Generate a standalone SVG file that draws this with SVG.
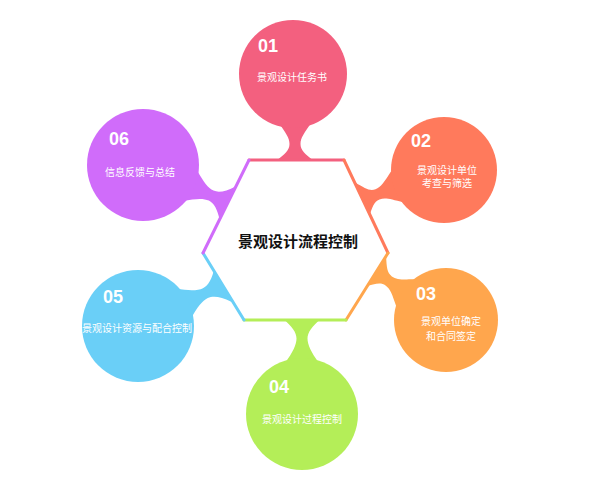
<svg xmlns="http://www.w3.org/2000/svg" width="600" height="489" viewBox="0 0 600 489">
<style>
.num{font-family:"Liberation Sans",Arial,sans-serif;font-weight:bold;font-size:18px;fill:#fff}
.lbl{font-family:"Noto Sans CJK SC","Noto Sans",sans-serif;font-size:10px;fill:#fff;text-anchor:middle}
.title{font-family:"Noto Sans CJK SC","Noto Sans",sans-serif;font-size:15px;font-weight:bold;fill:#111;text-anchor:middle}
.edge{stroke-width:3;stroke-linecap:round;fill:none}
</style>
<rect width="600" height="489" fill="#fff"/>
<g id="connectors">
<path fill="#F3607F" transform="translate(295,160) rotate(-90)" d="M -6,-19 L -1,-19 C 6,-10 10,-5.5 16,-5.5 C 22,-5.5 27,-9 38,-17 L 38,17 C 27,9 22,5.5 16,5.5 C 10,5.5 6,10 -1,19 L -6,19 Z"/>
<path fill="#FF7A5C" transform="translate(363,200) rotate(-21)" d="M -6,-19 L -1,-19 C 6,-10 9.5,-5.5 15.5,-5.5 C 21.5,-5.5 26,-9 37,-17 L 37,17 C 26,9 21.5,5.5 15.5,5.5 C 9.5,5.5 6,10 -1,19 L -6,19 Z"/>
<path fill="#FFA64D" transform="translate(376,272) rotate(35)" d="M -6,-19 L -1,-19 C 6,-10 9.5,-5.5 15.5,-5.5 C 21.5,-5.5 26,-9 37,-17 L 37,17 C 26,9 21.5,5.5 15.5,5.5 C 9.5,5.5 6,10 -1,19 L -6,19 Z"/>
<path fill="#B4EE58" transform="translate(302,320) rotate(90)" d="M -6,-19 L -1,-19 C 6,-10 12.5,-5.5 18.5,-5.5 C 24.5,-5.5 32,-9 43,-17 L 43,17 C 32,9 24.5,5.5 18.5,5.5 C 12.5,5.5 6,10 -1,19 L -6,19 Z"/>
<path fill="#6ACFF7" transform="translate(222,285) rotate(154)" d="M -6,-19 L -1,-19 C 6,-10 12.5,-5.5 18.5,-5.5 C 24.5,-5.5 32,-9 43,-17 L 43,17 C 32,9 24.5,5.5 18.5,5.5 C 12.5,5.5 6,10 -1,19 L -6,19 Z"/>
<path fill="#D06CFA" transform="translate(227,203) rotate(-155)" d="M -6,-19 L -1,-19 C 6,-10 11.5,-5.5 17.5,-5.5 C 23.5,-5.5 30,-9 41,-17 L 41,17 C 30,9 23.5,5.5 17.5,5.5 C 11.5,5.5 6,10 -1,19 L -6,19 Z"/>
</g>
<g id="center">
<polygon points="249,160 344,160 388,253 346,320 244,320 203,253" fill="#fff"/>
<line class="edge" x1="249" y1="160" x2="344" y2="160" stroke="#F3607F"/>
<line class="edge" x1="344" y1="160" x2="388" y2="253" stroke="#FF7A5C"/>
<line class="edge" x1="388" y1="253" x2="346" y2="320" stroke="#FFA64D"/>
<line class="edge" x1="346" y1="320" x2="244" y2="320" stroke="#B4EE58"/>
<line class="edge" x1="244" y1="320" x2="203" y2="253" stroke="#6ACFF7"/>
<line class="edge" x1="203" y1="253" x2="249" y2="160" stroke="#D06CFA"/>
<text class="title" x="298" y="247">景观设计流程控制</text>
</g>
<g id="node-01">
<circle cx="293" cy="74" r="54" fill="#F3607F"/>
<text class="num" x="258" y="52">01</text>
<text class="lbl" x="292" y="80.5">景观设计任务书</text>
</g>
<g id="node-02">
<circle cx="444" cy="170" r="53" fill="#FF7A5C"/>
<text class="num" x="411" y="147">02</text>
<text class="lbl" x="447" y="173.5">景观设计单位</text>
<text class="lbl" x="447" y="187">考查与筛选</text>
</g>
<g id="node-03">
<circle cx="446" cy="320" r="52" fill="#FFA64D"/>
<text class="num" x="416" y="300">03</text>
<text class="lbl" x="451" y="324.5">景观单位确定</text>
<text class="lbl" x="451" y="340">和合同签定</text>
</g>
<g id="node-04">
<circle cx="302" cy="414" r="56" fill="#B4EE58"/>
<text class="num" x="269" y="393">04</text>
<text class="lbl" x="302" y="422.5">景观设计过程控制</text>
</g>
<g id="node-05">
<circle cx="138" cy="326" r="56" fill="#6ACFF7"/>
<text class="num" x="103" y="303">05</text>
<text class="lbl" x="137" y="331.5">景观设计资源与配合控制</text>
</g>
<g id="node-06">
<circle cx="143" cy="165" r="56" fill="#D06CFA"/>
<text class="num" x="109" y="145">06</text>
<text class="lbl" x="140" y="175.5">信息反馈与总结</text>
</g>
</svg>
